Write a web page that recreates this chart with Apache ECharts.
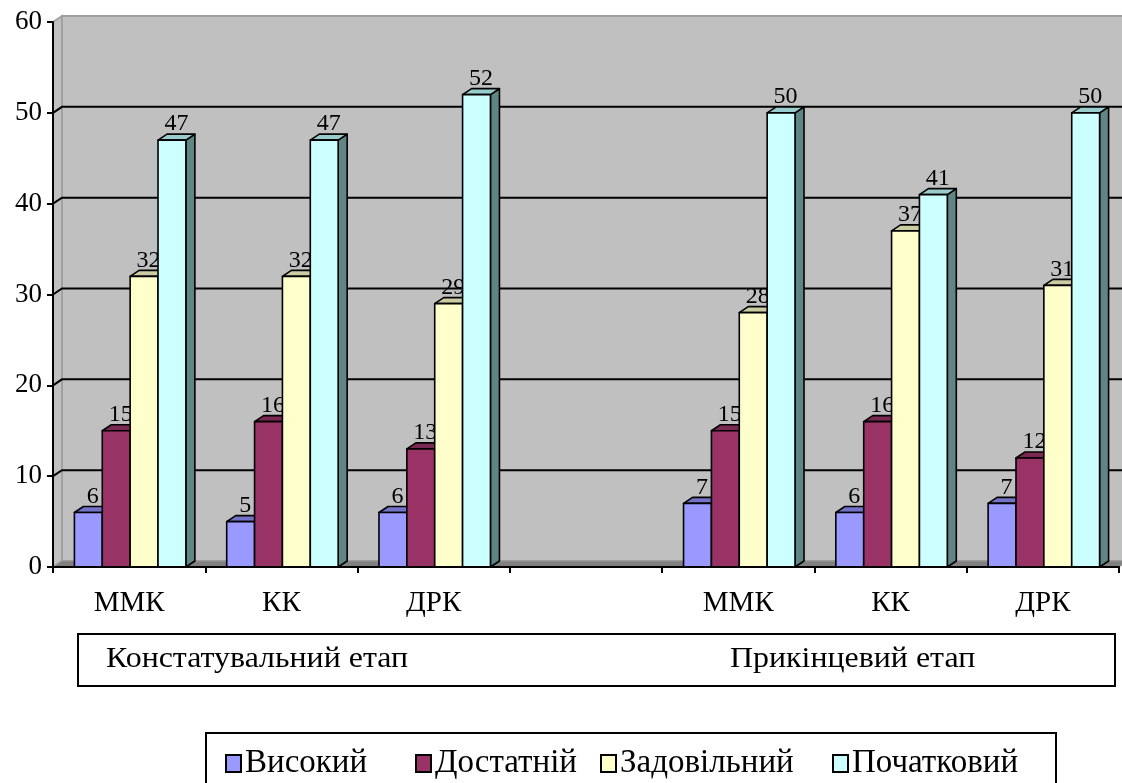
<!DOCTYPE html>
<html>
<head>
<meta charset="utf-8">
<script src="https://cdn.jsdelivr.net/npm/echarts@6/dist/echarts.min.js"></script>
<style>html,body{margin:0;padding:0;background:#fff;}#c{width:1122px;height:783px;}</style>
</head>
<body>
<div id="c"></div>
<script>
const categories = ['ММК', 'КК', 'ДРК', '', 'ММК', 'КК', 'ДРК'];
const seriesNames = ['Високий', 'Достатній', 'Задовільний', 'Початковий'];
const vysokyi = [6, 5, 6, null, 7, 6, 7];
const dostatnii = [15, 16, 13, null, 15, 16, 12];
const zadovilnyi = [32, 32, 29, null, 28, 37, 31];
const pochatkovyi = [47, 47, 52, null, 50, 41, 50];
const yTicks = [0, 10, 20, 30, 40, 50, 60];
const groupLabels = ['Констатувальний етап', 'Прикінцевий етап'];

const seriesValues = [vysokyi, dostatnii, zadovilnyi, pochatkovyi];
const fronts = ['#9999FF', '#993366', '#FFFFCC', '#CCFFFF'];
const tops = ['#7373C8', '#7A2952', '#CCCCA3', '#99CCCC'];
const sides = ['#5C5C99', '#5C1F3D', '#999979', '#5F8585'];
const legendLefts = [220, 410, 595, 827];
const DX = 9, DY = 6;
const FONT = '"Liberation Serif", "Times New Roman", serif';

function bgRender(params, api) {
  const cs = params.coordSys;
  const L = cs.x, T = cs.y, R = cs.x + cs.width, B = cs.y + cs.height;
  const children = [];
  children.push({type: 'polygon', shape: {points: [[L + DX, T - DY], [R + DX, T - DY], [R + DX, B - DY], [L + DX, B - DY]]},
    style: {fill: '#C0C0C0', stroke: '#A0A0A0', lineWidth: 2}});
  children.push({type: 'polygon', shape: {points: [[L, T], [L + DX, T - DY], [L + DX, B - DY], [L, B]]},
    style: {fill: '#C0C0C0', stroke: '#A0A0A0', lineWidth: 2}});
  children.push({type: 'polygon', shape: {points: [[L, B], [L + DX, B - DY], [R + DX, B - DY], [R, B]]},
    style: {fill: '#808080', stroke: '#999999', lineWidth: 1}});
  yTicks.forEach(function (v) {
    if (v === 0 || v === 60) return;
    const y = api.coord([0, v])[1];
    children.push({type: 'polyline', shape: {points: [[L, y], [L + DX, y - DY], [R + DX, y - DY]]},
      style: {fill: null, stroke: '#000', lineWidth: 2}});
  });
  return {type: 'group', children: children};
}

function barRender(s) {
  return function (params, api) {
    const cat = api.value(0), val = api.value(1);
    if (val == null || isNaN(val)) return null;
    const base = api.coord([cat, 0]);
    const top = api.coord([cat, val]);
    const catW = api.size([1, 0])[0];
    const bw = catW * 0.183;
    const x0 = base[0] - 2 * bw + s * bw + 1;
    const x1 = x0 + bw;
    const yb = base[1], yt = top[1];
    const st = {stroke: '#000', lineWidth: 1.6, lineJoin: 'round'};
    return {type: 'group', children: [
      {type: 'polygon', shape: {points: [[x1, yt], [x1 + DX, yt - DY], [x1 + DX, yb - DY], [x1, yb]]},
        style: Object.assign({fill: sides[s]}, st)},
      {type: 'polygon', shape: {points: [[x0, yt], [x0 + DX, yt - DY], [x1 + DX, yt - DY], [x1, yt]]},
        style: Object.assign({fill: tops[s]}, st)},
      {type: 'rect', shape: {x: x0, y: yt, width: bw, height: yb - yt},
        style: Object.assign({fill: fronts[s]}, st)},
      {type: 'text', style: {text: String(val), x: (x0 + x1) / 2 + DX / 2, y: yt - DY + 2,
        align: 'center', verticalAlign: 'bottom', fill: '#000', font: '24px ' + FONT}}
    ]};
  };
}

const series = [{
  type: 'custom', name: '_bg', z: 1, silent: true,
  renderItem: bgRender, data: [[0, 0]], encode: {x: 0, y: 1}
}];
seriesValues.forEach(function (vals, s) {
  series.push({
    type: 'custom', name: seriesNames[s], z: 2,
    itemStyle: {color: fronts[s]},
    renderItem: barRender(s),
    data: vals.map(function (v, i) { return [i, v]; }),
    encode: {x: 0, y: 1}
  });
});

const legends = seriesNames.map(function (n, i) {
  return {
    data: [n], left: legendLefts[i], top: 742, icon: 'rect', itemWidth: 15, itemHeight: 17, itemGap: 0,
    itemStyle: {borderColor: '#000', borderWidth: 2},
    textStyle: {color: '#000', fontFamily: FONT, fontSize: 33, padding: [0, 0, 0, -1]}
  };
});

const chart = echarts.init(document.getElementById('c'), null, {renderer: 'canvas'});
chart.setOption({
  animation: false,
  backgroundColor: '#fff',
  grid: {left: 53, right: 3, top: 22, bottom: 216, containLabel: false},
  xAxis: {
    type: 'category', data: categories, z: 5,
    axisLine: {show: true, lineStyle: {color: '#000', width: 2}},
    axisTick: {show: true, length: 6, lineStyle: {color: '#000', width: 2}},
    axisLabel: {color: '#000', fontFamily: FONT, fontSize: 29, margin: 22},
    splitLine: {show: false}
  },
  yAxis: {
    type: 'value', min: 0, max: 60, interval: 10, z: 5,
    axisLine: {show: true, lineStyle: {color: '#000', width: 2}},
    axisTick: {show: true, length: 6, lineStyle: {color: '#000', width: 2}},
    axisLabel: {color: '#000', fontFamily: FONT, fontSize: 27, margin: 11},
    splitLine: {show: false}
  },
  legend: legends,
  graphic: [
    {type: 'rect', left: 77, top: 633, shape: {width: 1037, height: 52}, style: {fill: '#fff', stroke: '#000', lineWidth: 2}},
    {type: 'text', x: 106, y: 659, scaleX: 1.1, style: {text: groupLabels[0], fill: '#000', font: '29px ' + FONT, verticalAlign: 'middle'}},
    {type: 'text', x: 730, y: 659, scaleX: 1.1, style: {text: groupLabels[1], fill: '#000', font: '29px ' + FONT, verticalAlign: 'middle'}},
    {type: 'rect', left: 205, top: 732, z: -1, shape: {width: 850, height: 70}, style: {fill: '#fff', stroke: '#000', lineWidth: 2}}
  ],
  series: series
});
</script>
</body>
</html>
